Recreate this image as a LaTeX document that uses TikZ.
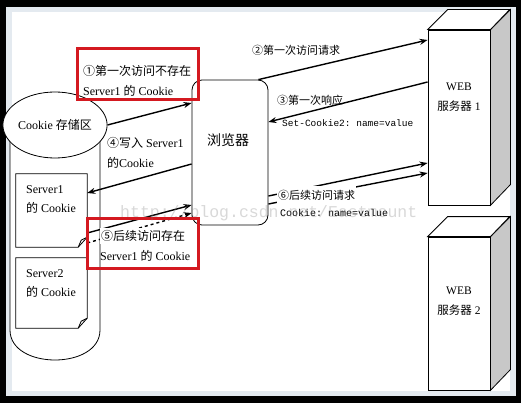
\documentclass[tikz,border=0pt]{standalone}
\usepackage{fontspec}
\setmainfont{Liberation Serif}
\setmonofont{Liberation Mono}
\newfontfamily\cjk{Noto Sans CJK SC}
\usetikzlibrary{arrows.meta,shapes.geometric}
\newcommand\zhtext[1]{{\cjk #1}}
\definecolor{myred}{HTML}{D41920}
\definecolor{band}{HTML}{E4EAF0}
\definecolor{sidegray}{HTML}{C8C8C8}
\tikzset{
  outl/.style={line width=0.8pt},
  arr/.style={-{Stealth[length=8pt,width=6pt]}, line width=1.4pt},
  lbl/.style={inner sep=0pt, anchor=west, font=\fontsize{12}{14}\selectfont},
  lbls/.style={inner sep=0pt, anchor=west, font=\fontsize{11}{13}\selectfont},
  code/.style={inner sep=0pt, anchor=west, font=\ttfamily\fontsize{9.5}{11}\selectfont},
  redbox/.style={draw=myred, line width=3pt, inner sep=0pt},
  srvtxt/.style={align=center, inner sep=0pt, font=\fontsize{11.5}{20}\selectfont},
}
\begin{document}
\begin{tikzpicture}[x=1pt,y=-1pt]
\useasboundingbox (0,0) rectangle (521,403);
\fill[black] (0,0) rectangle (521,403);
\fill[band] (6,7) rectangle (516,396);
\fill[white] (12,12) rectangle (510,391);

% cookie store cylinder
\draw[outl, fill=white] (10,125) -- (10,330) .. controls (10,370) and (100,370) .. (100,330) -- (100,125);
\node[draw, outl, ellipse, fill=white, minimum width=90, minimum height=66, inner sep=0pt,
      font=\fontsize{12}{14}\selectfont] (store) at (55,125) {Cookie \zhtext{存储区}};

% cookie documents
\node[minimum width=71, minimum height=73, inner sep=0pt] (doc1) at (51.5,210.5) {};
\draw[outl, fill=white] (doc1.north west) -- (doc1.north east) -- ([yshift=10pt]doc1.south east)
  -- ([xshift=-9pt]doc1.south east) -- (doc1.south west) -- cycle;
\draw[outl] ([yshift=10pt]doc1.south east) -- ([xshift=-6pt,yshift=7pt]doc1.south east) -- ([xshift=-9pt]doc1.south east);
\node[lbl] (d1a) at (26,190) {Server1};
\node[lbl] (d1b) at (26,208) {\zhtext{的} Cookie};

\node[minimum width=71, minimum height=70, inner sep=0pt] (doc2) at (51.5,293) {};
\draw[outl, fill=white] (doc2.north west) -- (doc2.north east) -- ([yshift=10pt]doc2.south east)
  -- ([xshift=-9pt]doc2.south east) -- (doc2.south west) -- cycle;
\draw[outl] ([yshift=10pt]doc2.south east) -- ([xshift=-6pt,yshift=7pt]doc2.south east) -- ([xshift=-9pt]doc2.south east);
\node[lbl] (d2a) at (26,274) {Server2};
\node[lbl] (d2b) at (26,292) {\zhtext{的} Cookie};

% browser
\node[draw, outl, rounded corners=10pt, minimum width=76, minimum height=145, inner sep=0pt] (browser) at (230,152.5) {};
\node[inner sep=0pt, font=\cjk\fontsize{14}{16}\selectfont] (browsertxt) at (228,140) {浏览器};

% web servers
\node[draw, outl, fill=white, minimum width=62, minimum height=175, inner sep=0pt] (srv1) at (459,117.5) {};
\draw[outl, fill=sidegray] (srv1.north east) -- ++(20,-20) -- ++(0,175) -- (srv1.south east) -- cycle;
\draw[outl, fill=white] (srv1.north west) -- ++(20,-20) -- ++(62,0) -- (srv1.north east) -- cycle;
\node[srvtxt] (srv1txt) at (459,97) {WEB\\\zhtext{服务器} 1};

\node[draw, outl, fill=white, minimum width=62, minimum height=153, inner sep=0pt] (srv2) at (459,313.5) {};
\draw[outl, fill=sidegray] (srv2.north east) -- ++(20,-20) -- ++(0,153) -- (srv2.south east) -- cycle;
\draw[outl, fill=white] (srv2.north west) -- ++(20,-20) -- ++(62,0) -- (srv2.north east) -- cycle;
\node[srvtxt] (srv2txt) at (459,301) {WEB\\\zhtext{服务器} 2};

% connectors
\draw[arr] (store.east) -- (browser.west |- 0,103);
\draw[arr] ([xshift=-10pt]browser.north east) -- (srv1.west |- 0,40);
\draw[arr] (srv1.west |- 0,82) -- (browser.east |- 0,122);
\draw[arr] (browser.west |- 0,164) -- (doc1.east |- 0,193);
\draw[arr] (doc1.east |- 0,233) -- (browser.west |- 0,205);
\draw[arr, dashed] (doc1.east |- 0,243) -- (browser.west |- 0,213);
\draw[arr] (browser.east |- 0,196) -- (srv1.west |- 0,163);
\draw[arr] (browser.east |- 0,204) -- (srv1.west |- 0,173);

% labels
\node[lbls] (l2) at (252,50) {\zhtext{②第一次访问请求}};
\node[lbls] (l3) at (277,100) {\zhtext{③第一次响应}};
\node[code] (l3b) at (282,123) {Set-Cookie2: name=value};
\node[lbl] (l4a) at (107,143) {\zhtext{④写入} Server1};
\node[lbl] (l4b) at (107,163) {\zhtext{的}Cookie};
\node[lbls, fill=white, inner xsep=1pt, inner ysep=4pt] (l6) at (277,195) {\zhtext{⑥后续访问请求}};
\node[code, font=\ttfamily\fontsize{10}{12}\selectfont] (l6b) at (280,213) {Cookie: name=value};

% red boxes
\node[redbox, minimum width=121, minimum height=51] (r1) at (137.5,74.5) {};
\node[lbl] (r1a) at (83,71) {\zhtext{①第一次访问不存在}};
\node[lbl] (r1b) at (83,91) {Server1 \zhtext{的} Cookie};
\node[lbl, fill=white, inner xsep=1pt, inner ysep=2pt] (r2a) at (100,236) {\zhtext{⑤后续访问存在}};
\node[redbox, minimum width=111, minimum height=50] (r2) at (142.5,243) {};
\node[lbl] (r2b) at (100,256) {Server1 \zhtext{的} Cookie};

% watermark
\node[inner sep=0pt, anchor=west, text=gray, text opacity=0.3, font=\ttfamily\fontsize{16.5}{18}\selectfont] (wm) at (120,213) {http://blog.csdn.net/Eastmount};
\end{tikzpicture}
\end{document}
